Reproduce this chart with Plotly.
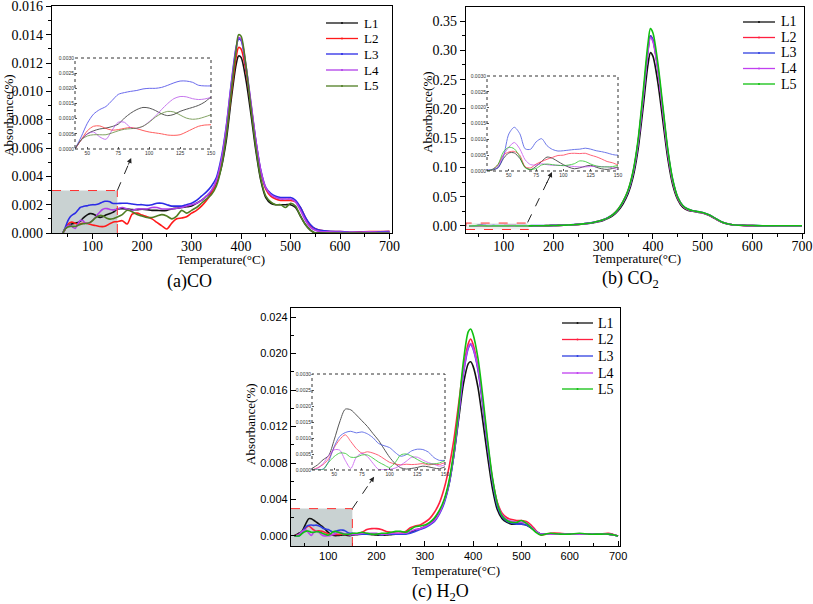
import plotly.graph_objects as go

W, H = 813, 604
def px(x): return x / W
def py(y): return 1 - y / H

# ---------------- data ----------------
X_A = [40, 45, 50, 55, 60, 65, 70, 75, 80, 85, 90, 95, 100, 105, 110, 115, 120, 125, 130, 135, 140, 145, 150,
       160, 170, 180, 190, 200, 210, 220, 230, 240, 250, 260, 270, 280, 290, 300, 310, 320, 330, 340, 350, 360, 370, 380,
       390, 395, 400,
       410, 420, 430, 440, 450, 460, 470, 480, 490, 500, 510, 520, 530, 540, 550, 560,
       580, 600, 620, 640, 660, 680, 700]

X_BC = [30, 35, 40, 45, 50, 55, 60, 65, 70, 75, 80, 85, 90, 95, 100, 105, 110, 115, 120, 125, 130, 135, 140, 145, 150,
        160, 170, 180, 190, 200, 210, 220, 230, 240, 250, 260, 270, 280, 290, 300, 310, 320, 330, 340, 350, 360, 370, 380,
        390, 395, 400,
        410, 420, 430, 440, 450, 460, 470, 480, 490, 500, 510, 520, 530, 540, 550, 560,
        580, 600, 620, 640, 660, 680, 700]

SERIES = ["L1", "L2", "L3", "L4", "L5"]

# (a) CO
CO_L1 = [0, 0.0003, 0.0005, 0.0006, 0.00066, 0.00069, 0.00074, 0.00082, 0.00102, 0.00118, 0.0013, 0.00137, 0.00135, 0.00127, 0.00116, 0.0011, 0.00114, 0.00124, 0.00131, 0.00137, 0.00144, 0.00155, 0.0017,
         0.00172, 0.0017, 0.00165, 0.00165, 0.00168, 0.00165, 0.0016, 0.0016, 0.00158, 0.0016, 0.0017, 0.00175, 0.0018, 0.00185, 0.0019, 0.0021, 0.0023, 0.0026, 0.0029, 0.0035, 0.0046, 0.0065, 0.0094,
         0.0119, 0.0125, 0.0124,
         0.0108, 0.0084, 0.0058, 0.0037, 0.0025, 0.0021, 0.002, 0.002, 0.002, 0.002, 0.0018, 0.0012, 0.0006, 0.0002, 0.0, 0.00002,
         0.00002, 0.00002, 0.00002, 0.00002, 0.00002, 0.00002, 0.00002]
CO_L2 = [0, 0.0003, 0.0006, 0.00075, 0.00076, 0.00068, 0.00062, 0.00064, 0.00068, 0.00071, 0.00067, 0.00061, 0.00056, 0.00053, 0.0005, 0.00046, 0.00045, 0.00047, 0.00056, 0.00066, 0.00075, 0.00079, 0.0008,
         0.00087, 0.00064, 0.00134, 0.0014, 0.00127, 0.00115, 0.001, 0.00075, 0.0005, 0.00028, 0.0007, 0.001, 0.00106, 0.00115, 0.0014, 0.0016, 0.0019, 0.0023, 0.0028, 0.0036, 0.0049, 0.007, 0.0098,
         0.0124, 0.0131, 0.0130,
         0.0114, 0.0090, 0.0064, 0.0043, 0.0031, 0.0026, 0.0024, 0.0023, 0.0023, 0.0023, 0.0022, 0.0018, 0.0011, 0.0005, 0.0003, 0.0002,
         0.0001, 0.0001, 0.00005, 0.00008, 0.0001, 0.0001, 0.00012]
CO_L3 = [0, 0.0004, 0.00085, 0.00115, 0.0013, 0.0014, 0.0016, 0.0018, 0.00186, 0.0019, 0.00193, 0.00198, 0.002, 0.002, 0.00203, 0.0021, 0.00218, 0.00224, 0.00224, 0.0022, 0.0021, 0.00208, 0.00208,
         0.0021, 0.0021, 0.00205, 0.002, 0.002, 0.00195, 0.002, 0.0021, 0.0021, 0.002, 0.0019, 0.0019, 0.0019, 0.002, 0.0021, 0.0023, 0.0026, 0.0029, 0.0033, 0.0039, 0.0053, 0.0075, 0.0105,
         0.0131, 0.0137, 0.0136,
         0.0117, 0.0091, 0.0065, 0.0044, 0.0032, 0.0028, 0.0026, 0.0025, 0.0025, 0.0025, 0.0023, 0.0018, 0.0011, 0.0006, 0.0003, 0.0002,
         0.00012, 0.0001, 0.00005, 0.00005, 0.00005, 0.00008, 0.0001]
CO_L4 = [0, 0.0003, 0.0005, 0.00056, 0.0004, 0.00032, 0.00062, 0.00088, 0.00088, 0.0007, 0.00068, 0.00075, 0.0009, 0.00108, 0.0013, 0.0015, 0.00166, 0.00173, 0.00172, 0.00166, 0.00163, 0.00165, 0.0017,
         0.0018, 0.0017, 0.0016, 0.0017, 0.0017, 0.0017, 0.0018, 0.0018, 0.0017, 0.0017, 0.0017, 0.00175, 0.0018, 0.0019, 0.002, 0.0021, 0.0023, 0.0026, 0.003, 0.0037, 0.0051, 0.0074, 0.0104,
         0.013, 0.0138, 0.0137,
         0.0118, 0.0092, 0.0065, 0.0044, 0.0032, 0.0027, 0.0025, 0.0024, 0.0024, 0.0024, 0.0022, 0.0016, 0.0009, 0.0004, 0.0002, 0.0001,
         0.00008, 0.00006, 0.00005, 0.00005, 0.00008, 0.00005, 0.00005]
CO_L5 = [0, 0.0003, 0.00043, 0.00047, 0.00047, 0.00047, 0.00053, 0.0006, 0.00065, 0.00067, 0.00069, 0.00075, 0.00088, 0.00105, 0.00117, 0.00124, 0.00122, 0.00112, 0.00102, 0.00098, 0.001, 0.00106, 0.00113,
         0.0013, 0.0016, 0.0015, 0.0013, 0.0012, 0.0011, 0.0011, 0.0012, 0.0013, 0.0012, 0.001, 0.0012, 0.0016, 0.0014, 0.0016, 0.0018, 0.0021, 0.0024, 0.0027, 0.0033, 0.0046, 0.0068, 0.0099,
         0.0129, 0.014, 0.0139,
         0.0118, 0.0088, 0.006, 0.0038, 0.0026, 0.0022, 0.002, 0.002, 0.0018, 0.0021, 0.0019, 0.0012, 0.0006, 0.0002, 0.0, 0.0,
         0, 0, 0, 0, 0, 0, 0]

# (b) CO2
CO2_L1 = [0, 0.00003, 0.0001, 0.00039, 0.00057, 0.00057, 0.0004, 0.00012, 0.00004, 0.00015, 0.0003, 0.00044, 0.0004, 0.0003, 0.0002, 0.00012, 0.00007, 0.0001, 0.00015, 0.00018, 0.00012, 0.00007, 0.00005, 0.00008, 0.00013,
          0.0002, 0.0003, 0.0004, 0.0005, 0.0007, 0.0009, 0.0012, 0.0016, 0.002, 0.0026, 0.0033, 0.0042, 0.0055, 0.0072, 0.0095, 0.013, 0.018, 0.026, 0.038, 0.055, 0.083, 0.13, 0.2,
          0.275, 0.296, 0.29,
          0.245, 0.18, 0.115, 0.07, 0.045, 0.032, 0.027, 0.025, 0.0235, 0.022, 0.019, 0.015, 0.01, 0.006, 0.0035, 0.002,
          0.001, 0.0006, 0.0004, 0.0003, 0.0002, 0.0002, 0.0002]
CO2_L2 = [0, 0.00005, 0.0002, 0.0005, 0.0006, 0.00062, 0.0005, 0.00013, 0.0001, 0.00022, 0.0003, 0.00037, 0.00043, 0.00049, 0.0005, 0.00055, 0.00056, 0.00055, 0.00056, 0.0005, 0.00045, 0.00038, 0.0003, 0.00026, 0.0002,
          0.0003, 0.0004, 0.0005, 0.0006, 0.0008, 0.001, 0.0013, 0.0017, 0.0022, 0.0028, 0.0036, 0.0046, 0.006, 0.0079, 0.0105, 0.0143, 0.0198, 0.0285, 0.0415, 0.06, 0.091, 0.142, 0.218,
          0.3, 0.325, 0.318,
          0.268, 0.197, 0.126, 0.076, 0.048, 0.034, 0.028, 0.026, 0.024, 0.0225, 0.0195, 0.0155, 0.0105, 0.0063, 0.0037, 0.0021,
          0.0011, 0.0006, 0.0004, 0.0003, 0.0002, 0.0002, 0.0002]
CO2_L3 = [0.00003, 0.00005, 0.0001, 0.00045, 0.00117, 0.00138, 0.00118, 0.0007, 0.00069, 0.00092, 0.00102, 0.0008, 0.00068, 0.00063, 0.00064, 0.00066, 0.00068, 0.00069, 0.00072, 0.00069, 0.00064, 0.00061, 0.00057, 0.00052, 0.0005,
          0.0006, 0.0007, 0.0008, 0.0009, 0.001, 0.0012, 0.0015, 0.0019, 0.0024, 0.003, 0.0038, 0.0048, 0.0062, 0.008, 0.0106, 0.0144, 0.0198, 0.0283, 0.041, 0.0592, 0.09, 0.141, 0.217,
          0.299, 0.325, 0.318,
          0.269, 0.199, 0.128, 0.078, 0.049, 0.035, 0.029, 0.026, 0.0245, 0.023, 0.02, 0.016, 0.011, 0.0065, 0.0038, 0.0022,
          0.0012, 0.0007, 0.0005, 0.0004, 0.0003, 0.0003, 0.0003]
CO2_L4 = [0, 0.00005, 0.00015, 0.0005, 0.00075, 0.0009, 0.0007, 0.00035, 0.0002, 0.00019, 0.00023, 0.0002, 0.00018, 0.00018, 0.00017, 0.00016, 0.00014, 0.00013, 0.00013, 0.00014, 0.00015, 0.00014, 0.00013, 0.0001, 0.00005,
          0.0002, 0.0003, 0.0004, 0.0005, 0.0007, 0.0009, 0.0012, 0.0016, 0.0021, 0.0027, 0.0035, 0.0045, 0.0059, 0.0078, 0.0104, 0.0142, 0.0196, 0.0282, 0.041, 0.0594, 0.09, 0.14, 0.216,
          0.297, 0.322, 0.315,
          0.266, 0.196, 0.125, 0.076, 0.048, 0.034, 0.028, 0.0255, 0.024, 0.0225, 0.0195, 0.0155, 0.0105, 0.0063, 0.0037, 0.0021,
          0.0011, 0.0006, 0.0004, 0.0003, 0.0002, 0.0002, 0.0002]
CO2_L5 = [0, 0.00005, 0.0002, 0.0006, 0.00075, 0.0007, 0.00045, 0.0001, 0.00005, 0.00008, 0.00019, 0.00022, 0.0002, 0.00018, 0.00017, 0.00019, 0.00023, 0.00032, 0.0003, 0.00022, 0.00016, 0.00013, 0.00013, 0.00014, 0.00018,
          0.0003, 0.0004, 0.0005, 0.0006, 0.0008, 0.001, 0.0013, 0.0017, 0.0022, 0.0028, 0.0036, 0.0046, 0.006, 0.0079, 0.0105, 0.0143, 0.0198, 0.0286, 0.042, 0.061, 0.093, 0.146, 0.226,
          0.311, 0.337, 0.33,
          0.278, 0.205, 0.131, 0.079, 0.049, 0.035, 0.029, 0.026, 0.0245, 0.023, 0.02, 0.016, 0.011, 0.0065, 0.0038, 0.0022,
          0.0012, 0.0007, 0.0005, 0.0004, 0.0003, 0.0003, 0.0003]

# (c) H2O
H2O_L1 = [0.00005, 0.00016, 0.00032, 0.00045, 0.00094, 0.0015, 0.0019, 0.00188, 0.00172, 0.00154, 0.00136, 0.00114, 0.00093, 0.00066, 0.0004, 0.0002, 0.00007, 0.00003, 0.00005, 0.00008, 0.00012, 0.0001, 0.00006, 0.00004, 0.0001,
          0.00015, 0.0002, 0.0002, 0.00015, 0.0001, 0.0001, 0.0001, 0.00015, 0.0002, 0.0002, 0.00025, 0.0004, 0.0006, 0.0008, 0.001, 0.0013, 0.0018, 0.0026, 0.0038, 0.0057, 0.0088, 0.0128, 0.0167,
          0.0189, 0.0191, 0.0186,
          0.0163, 0.0126, 0.0087, 0.0052, 0.0029, 0.0019, 0.0015, 0.0013, 0.0013, 0.0013, 0.0012, 0.0009, 0.0005, 0.0002, 0.0002, 0.0002,
          0.0002, 0.0002, 0.0002, 0.0002, 0.0002, 0.0002, 0.0]
H2O_L2 = [0, 0.00007, 0.00017, 0.00035, 0.0007, 0.00095, 0.0011, 0.00089, 0.00067, 0.00053, 0.00057, 0.00053, 0.00046, 0.00035, 0.00024, 0.00019, 0.00016, 0.00018, 0.00017, 0.00018, 0.0002, 0.00016, 0.00018, 0.00017, 0.00023,
          0.0002, 0.0004, 0.0007, 0.0008, 0.0008, 0.0007, 0.0005, 0.0004, 0.0003, 0.0003, 0.0005, 0.0009, 0.0011, 0.0012, 0.0015, 0.0019, 0.0026, 0.0036, 0.0052, 0.0075, 0.0105, 0.0145, 0.0185,
          0.0211, 0.0216, 0.0210,
          0.0185, 0.0145, 0.01, 0.0062, 0.0037, 0.0025, 0.002, 0.0018, 0.0017, 0.0017, 0.0016, 0.0012, 0.0006, 0.0001, 0.0002, 0.0003,
          0.0003, 0.0002, 0.0002, 0.0002, 0.0002, 0.0003, 0.0]
H2O_L3 = [0, 0, 0.00003, 0.00027, 0.00073, 0.00105, 0.00117, 0.00121, 0.00116, 0.00119, 0.00113, 0.00101, 0.00083, 0.00076, 0.0007, 0.00055, 0.00043, 0.00048, 0.0006, 0.00065, 0.00064, 0.00056, 0.00039, 0.0003, 0.0003,
          0.0002, 0.0002, 0.0002, 0.0002, 0.0002, 0.00015, 0.0002, 0.0002, 0.0002, 0.0002, 0.0002, 0.0003, 0.0005, 0.0007, 0.0009, 0.0012, 0.0016, 0.0024, 0.0036, 0.0056, 0.0088, 0.0132, 0.0178,
          0.0206, 0.021, 0.0205,
          0.0182, 0.0143, 0.0098, 0.006, 0.0033, 0.0021, 0.0016, 0.0014, 0.0013, 0.0013, 0.0012, 0.0009, 0.0005, 0.0002, 0.0002, 0.0002,
          0.0002, 0.0002, 0.0002, 0.0002, 0.0002, 0.0002, 0.0]
H2O_L4 = [0, 0.00005, 0.0002, 0.00045, 0.00063, 0.00062, 0.0003, 0.00005, 0.0004, 0.00052, 0.00042, 0.00021, 0.00002, 0.00001, 0.00002, 0.00006, 0.00015, 0.00027, 0.0004, 0.0004, 0.00031, 0.00023, 0.00018, 0.00012, 0.00016,
          0.0002, 0.0003, 0.0003, 0.0003, 0.0003, 0.0002, 0.0002, 0.0003, 0.0003, 0.0003, 0.0003, 0.0005, 0.0007, 0.0008, 0.001, 0.0013, 0.0017, 0.0025, 0.0038, 0.0058, 0.009, 0.0134, 0.018,
          0.0207, 0.0211, 0.0206,
          0.0184, 0.0146, 0.0101, 0.0062, 0.0036, 0.0023, 0.0018, 0.0016, 0.0015, 0.0015, 0.0014, 0.001, 0.0005, 0.0002, 0.0002, 0.0002,
          0.0002, 0.0002, 0.0002, 0.0002, 0.0002, 0.0002, 0.0]
H2O_L5 = [0, 0, 0.00001, 0.00024, 0.00042, 0.00053, 0.00052, 0.0004, 0.0004, 0.00047, 0.00047, 0.00037, 0.00025, 0.00016, 0.00008, 0.00023, 0.00047, 0.0005, 0.00043, 0.00033, 0.00024, 0.00019, 0.00019, 0.00022, 0.00029,
          0.0003, 0.0004, 0.0003, 0.0002, 0.0002, 0.0003, 0.0003, 0.0004, 0.0005, 0.0005, 0.0004, 0.0007, 0.001, 0.0011, 0.0012, 0.0015, 0.002, 0.0028, 0.004, 0.006, 0.0093, 0.014, 0.0192,
          0.0224, 0.0227, 0.0221,
          0.0195, 0.0153, 0.0105, 0.0064, 0.0036, 0.0022, 0.0017, 0.0015, 0.0015, 0.0017, 0.0014, 0.0009, 0.0004, 0.0001, 0.0002, 0.0003,
          0.0002, 0.0002, 0.0003, 0.0002, 0.0002, 0.0002, 0.0]

CO_ALL = [CO_L1, CO_L2, CO_L3, CO_L4, CO_L5]
CO2_ALL = [CO2_L1, CO2_L2, CO2_L3, CO2_L4, CO2_L5]
H2O_ALL = [H2O_L1, H2O_L2, H2O_L3, H2O_L4, H2O_L5]

# ---------------- style ----------------
COLORS_A = ['#111111', '#ff1a1a', '#2b2be6', '#b040e8', '#4f7d23']
COLORS_BC = ['#111111', '#ff2040', '#3040e0', '#c040f0', '#10c010']
SERIF = 'Liberation Serif'
SANS = 'Liberation Sans'

fig = go.Figure()

def add_panel(xs, ys_all, colors, xa, ya, xa_in, ya_in):
    for name, ys, c in zip(SERIES, ys_all, colors):
        fig.add_trace(go.Scatter(x=xs, y=ys, name=name, mode='lines', showlegend=False,
                                 line=dict(color=c, width=1.6, shape='spline', smoothing=0.8),
                                 xaxis=xa, yaxis=ya, hoverinfo='skip'))
    for name, ys, c in zip(SERIES, ys_all, colors):
        fig.add_trace(go.Scatter(x=xs, y=ys, name=name, mode='lines', showlegend=False, opacity=0.7,
                                 line=dict(color=c, width=1, shape='spline', smoothing=0.8),
                                 xaxis=xa_in, yaxis=ya_in, hoverinfo='skip'))

add_panel(X_A, CO_ALL, COLORS_A, 'x', 'y', 'x4', 'y4')
add_panel(X_BC, CO2_ALL, COLORS_BC, 'x2', 'y2', 'x5', 'y5')
add_panel(X_BC, H2O_ALL, COLORS_BC, 'x3', 'y3', 'x6', 'y6')

def main_axis(domain, anchor, rng, font, ticks='outside', **kw):
    d = dict(domain=domain, anchor=anchor, range=rng, showline=True, linecolor='black', linewidth=1.2,
             mirror=True, showgrid=False, zeroline=False, ticks=ticks, ticklen=5, tickwidth=1,
             tickcolor='black', tickfont=font, automargin=False, ticklabeloverflow='allow',
             minor=dict(ticks=ticks, ticklen=3, tickcolor='black', showgrid=False))
    d.update(kw)
    return d

fs = dict(family=SERIF, size=14, color='black')
fsc = dict(family=SANS, size=11, color='black')

def inset_axis(domain, anchor, rng, **kw):
    d = dict(domain=domain, anchor=anchor, range=rng, showline=False, showgrid=False, zeroline=False,
             ticks='inside', ticklen=2, tickcolor='#555', tickwidth=0.6, automargin=False,
             ticklabeloverflow='allow', tickfont=dict(family=SANS, size=5, color='#333'))
    d.update(kw)
    return d

layout = dict(
    width=W, height=H, margin=dict(l=0, r=0, t=0, b=0, autoexpand=False),
    paper_bgcolor='white', plot_bgcolor='rgba(0,0,0,0)', showlegend=False,
    xaxis=main_axis([px(52), px(392)], 'y', [18, 705], fs, tickmode='linear', tick0=0, dtick=100,
                    minor_dtick=50, ticklabelstandoff=-5),
    yaxis=main_axis([py(233), py(6)], 'x', [0, 0.01603], fs, tickmode='linear', tick0=0, dtick=0.002,
                    tickformat='.3f', minor_dtick=0.001),
    xaxis2=main_axis([px(466), px(804)], 'y2', [24, 704], fs, tickmode='linear', tick0=0, dtick=100,
                     minor_dtick=50, ticklabelstandoff=-5),
    yaxis2=main_axis([py(233), py(7)], 'x2', [-0.012, 0.374], fs, tickmode='linear', tick0=0, dtick=0.05,
                     tickformat='.2f', minor_dtick=0.025),
    xaxis3=main_axis([px(291), px(620)], 'y3', [23, 704], fsc, ticks='inside', tickmode='linear', tick0=0,
                     dtick=100, minor_dtick=50),
    yaxis3=main_axis([py(546), py(308)], 'x3', [-0.0011, 0.025], fsc, ticks='inside', tickmode='linear',
                     tick0=0, dtick=0.004, tickformat='.3f', minor_dtick=0.002),
    xaxis4=inset_axis([px(75), px(211)], 'y4', [40, 150], tickvals=[50, 75, 100, 125, 150]),
    yaxis4=inset_axis([py(149), py(58)], 'x4', [0, 0.003], tickmode='linear', tick0=0, dtick=0.0005,
                      tickformat='.4f'),
    xaxis5=inset_axis([px(487), px(618)], 'y5', [30, 150], tickvals=[50, 75, 100, 125, 150]),
    yaxis5=inset_axis([py(171), py(76)], 'x5', [0, 0.003], tickmode='linear', tick0=0, dtick=0.0005,
                      tickformat='.4f'),
    xaxis6=inset_axis([px(312), px(445)], 'y6', [30, 150], tickvals=[50, 75, 100, 125, 150]),
    yaxis6=inset_axis([py(470), py(374)], 'x6', [0, 0.003], tickmode='linear', tick0=0, dtick=0.0005,
                      tickformat='.4f'),
)
fig.update_layout(**layout)

shapes = []
annotations = []
RED = '#ff3030'
GRAY = '#c9d2d2'

# shaded zoom regions
shapes.append(dict(type='rect', xref='x', yref='y', x0=18, x1=150, y0=0, y1=0.003, fillcolor=GRAY,
                   line=dict(width=0), layer='below'))
shapes.append(dict(type='line', xref='x', yref='y', x0=18, x1=150, y0=0.003, y1=0.003, line=dict(color=RED, width=1, dash='dash')))
shapes.append(dict(type='line', xref='x', yref='y', x0=150, x1=150, y0=0, y1=0.003, line=dict(color=RED, width=1, dash='dash')))

shapes.append(dict(type='rect', xref='x2', yref='y2', x0=24, x1=150, y0=-0.006, y1=0.005,
                   fillcolor='rgba(200,210,210,0.35)', line=dict(color=RED, width=1, dash='dash'), layer='above'))

shapes.append(dict(type='rect', xref='x3', yref='y3', x0=23, x1=150, y0=-0.0011, y1=0.003, fillcolor=GRAY,
                   line=dict(width=0), layer='below'))
shapes.append(dict(type='line', xref='x3', yref='y3', x0=23, x1=150, y0=0.003, y1=0.003, line=dict(color=RED, width=1, dash='dash')))
shapes.append(dict(type='line', xref='x3', yref='y3', x0=150, x1=150, y0=-0.0011, y1=0.003, line=dict(color=RED, width=1, dash='dash')))

# inset borders
for xa, ya in [('x4', 'y4'), ('x5', 'y5'), ('x6', 'y6')]:
    shapes.append(dict(type='rect', xref=xa + ' domain', yref=ya + ' domain', x0=0, x1=1, y0=0, y1=1,
                       line=dict(color='#333', width=1, dash='dot')))

# dashed arrows
ARROWS = [('x', 'y', (150, 0.003), (178, 0.0053)),
          ('x2', 'y2', (148, 0.006), (197, 0.092)),
          ('x3', 'y3', (150, 0.003), (195, 0.0065))]
for xa, ya, (x0, y0), (x1, y1) in ARROWS:
    shapes.append(dict(type='line', xref=xa, yref=ya, x0=x0, y0=y0, x1=x0 + 0.85 * (x1 - x0), y1=y0 + 0.85 * (y1 - y0),
                       line=dict(color='#222', width=1, dash='dash')))
    annotations.append(dict(xref=xa, yref=ya, axref=xa, ayref=ya, x=x1, y=y1,
                            ax=x0 + 0.75 * (x1 - x0), ay=y0 + 0.75 * (y1 - y0), text='', showarrow=True,
                            arrowhead=2, arrowsize=1, arrowwidth=1, arrowcolor='#222', standoff=0))

# manual legends
LEGENDS = [(326, 358, 362, [23, 38.5, 54, 70, 86], COLORS_A, 13),
           (743, 775, 779, [22, 37.5, 53, 68.5, 84], COLORS_BC, 14),
           (562, 593, 596, [323, 339.5, 356, 373, 389], COLORS_BC, 14)]
for lx0, lx1, tx, rows, cols, fsz in LEGENDS:
    for name, yy, c in zip(SERIES, rows, cols):
        shapes.append(dict(type='line', xref='paper', yref='paper', x0=px(lx0), x1=px(lx1), y0=py(yy), y1=py(yy),
                           line=dict(color=c, width=1.3)))
        shapes.append(dict(type='circle', xref='paper', yref='paper',
                           x0=px((lx0 + lx1) / 2 - 1), x1=px((lx0 + lx1) / 2 + 1), y0=py(yy + 1), y1=py(yy - 1),
                           fillcolor=c, line=dict(width=0)))
        annotations.append(dict(xref='paper', yref='paper', x=px(tx), y=py(yy), text=name, showarrow=False,
                                xanchor='left', yanchor='middle', font=dict(family=SERIF, size=fsz, color='black')))

# axis titles and captions
TEXTS = [
    ('Absorbance(%)', 8, 115, -90, 13),
    ('Temperature(°C)', 221, 259, 0, 13),
    ('Absorbance(%)', 427, 112, -90, 13),
    ('Temperature(°C)', 637, 258, 0, 13),
    ('Absorbance(%)', 250, 424, -90, 13),
    ('Temperature(°C)', 456, 570, 0, 13),
    ('(a)CO', 189, 281, 0, 18),
    ('(b) CO<sub>2</sub>', 630, 280, 0, 18),
    ('(c) H<sub>2</sub>O', 440, 592, 0, 18),
]
for t, x, y, ang, sz in TEXTS:
    annotations.append(dict(xref='paper', yref='paper', x=px(x), y=py(y), text=t, showarrow=False,
                            textangle=ang, xanchor='center', yanchor='middle',
                            font=dict(family=SERIF, size=sz, color='black')))

fig.update_layout(shapes=shapes, annotations=annotations)
fig.write_html('out.html', config={'displayModeBar': False},
               post_script="document.body.style.margin='0';document.body.style.overflow='hidden';")
